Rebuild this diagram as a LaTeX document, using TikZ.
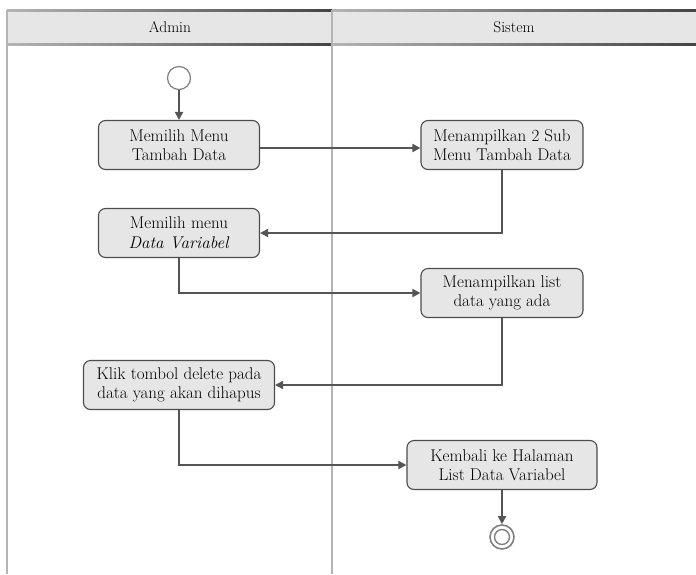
\documentclass[tikz,border=0pt]{standalone}
\usetikzlibrary{arrows.meta}
\definecolor{boxfill}{HTML}{E6E6E6}
\definecolor{linec}{HTML}{555555}
\definecolor{lanec}{HTML}{B4B4B4}
\begin{document}
\begin{tikzpicture}[x=1pt,y=-1pt,
  act/.style={draw=linec!90!black,line width=1.1pt,fill=boxfill,rounded corners=7pt,
    minimum height=49pt,align=center,font=\fontsize{17}{19.5}\selectfont,inner sep=2pt},
  flow/.style={draw=linec,line width=1.8pt,-{Triangle[length=8pt,width=8pt]}},
  lane/.style={draw=lanec,line width=1.5pt},
  grad/.style={left color=lanec,right color=linec!80!black,draw=none},
  hdr/.style={font=\fontsize{15.5}{17}\selectfont}]
\useasboundingbox (0,0) rectangle (696,574);
% header
\fill[boxfill] (7,10) rectangle (696,44);
\shade[grad] (7,9) rectangle (332,11);
\shade[grad] (7,43) rectangle (332,45);
\shade[grad] (332,9) rectangle (696,11);
\shade[grad] (332,43) rectangle (696,45);
\draw[lane] (7,10) -- (7,574);
\draw[lane] (332,10) -- (332,574);
\node[hdr] (hA) at (170,27) {Admin};
\node[hdr] (hS) at (514,27) {Sistem};
% nodes
\node[circle,draw=gray,line width=1.2pt,fill=white,minimum size=23pt,inner sep=0pt] (start) at (179,78) {};
\node[act,minimum width=161pt] (b1) at (179,145) {Memilih Menu\\Tambah Data};
\node[act,minimum width=162pt] (b2) at (502,145) {Menampilkan 2 Sub\\Menu Tambah Data};
\node[act,minimum width=161pt] (b3) at (179,233) {Memilih menu\\\textit{Data Variabel}};
\node[act,minimum width=162pt] (b4) at (502,293) {Menampilkan list\\data yang ada};
\node[act,minimum width=191pt] (b5) at (179,385) {Klik tombol delete pada\\data yang akan dihapus};
\node[act,minimum width=190pt] (b6) at (502,465) {Kembali ke Halaman\\List Data Variabel};
\node[circle,draw=gray,line width=1.6pt,fill=white,minimum size=24pt,inner sep=0pt] (end) at (502,537) {};
\node[circle,draw=gray,line width=1.4pt,minimum size=15pt,inner sep=0pt] (endin) at (end) {};
% connectors
\draw[flow] (start) -- (b1);
\draw[flow] (b1.east |- 0,148) -- (b2.west |- 0,148);
\draw[flow] (b2.south) |- (b3.east);
\draw[flow] (b3.south) |- (b4.west);
\draw[flow] (b4.south) |- (b5.east);
\draw[flow] (b5.south) |- (b6.west);
\draw[flow] (b6) -- (end);
\end{tikzpicture}
\end{document}
